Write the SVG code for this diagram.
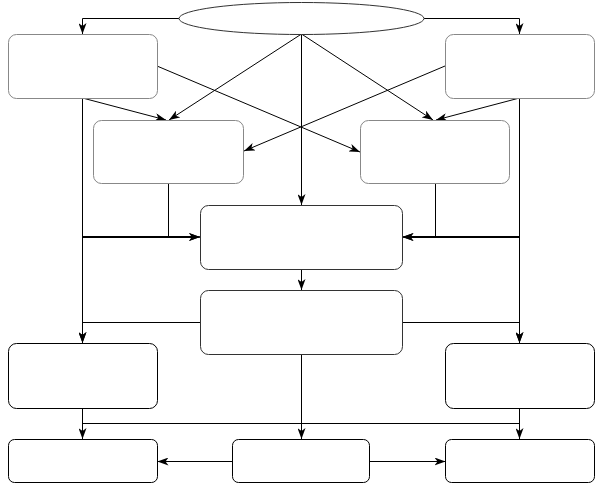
<svg xmlns="http://www.w3.org/2000/svg" width="596" height="484" viewBox="0 0 596 484">
<style>
.g{fill:#fff;stroke:#888;stroke-width:1}
.d{fill:#fff;stroke:#333;stroke-width:1}
.k{fill:#fff;stroke:#000;stroke-width:1}
.c path{fill:none;stroke:#000;stroke-width:1}
.c path.t{stroke-width:2}
</style>
<defs>
<marker id="a" viewBox="0 0 11 8" refX="11" refY="4" markerWidth="11" markerHeight="8" orient="auto" markerUnits="userSpaceOnUse"><path d="M0,0 L11,4 L0,8 L3,4 Z" fill="#000"/></marker>
</defs>
<rect width="596" height="484" fill="#fff"/>
<g class="c" id="connectors">
<path d="M179,18.5 H82.5 V34" marker-end="url(#a)"/>
<path d="M424,18.5 H519.5 V34" marker-end="url(#a)"/>
<path d="M301.5,34 L169,120" marker-end="url(#a)"/>
<path d="M301.5,34 L433,120" marker-end="url(#a)"/>
<path d="M301.5,34 V205" marker-end="url(#a)"/>
<path d="M157,66 L360,152" marker-end="url(#a)"/>
<path d="M445,66 L244,151" marker-end="url(#a)"/>
<path d="M82.5,98 L166,120" marker-end="url(#a)"/>
<path d="M519.5,98 L436,120" marker-end="url(#a)"/>
<path d="M82.5,98 V237 H200" marker-end="url(#a)"/>
<path d="M168.5,183 V237 H200" marker-end="url(#a)"/>
<path d="M519.5,98 V237 H402.5" marker-end="url(#a)"/>
<path d="M435.5,183 V237 H402.5" marker-end="url(#a)"/>
<path class="t" d="M82,237 H192"/>
<path class="t" d="M411,237 H520"/>
<path d="M82.5,98 V343" marker-end="url(#a)"/>
<path d="M519.5,98 V343" marker-end="url(#a)"/>
<path d="M200,322.5 H82.5 V343" marker-end="url(#a)"/>
<path d="M402.5,322.5 H519.5 V343" marker-end="url(#a)"/>
<path d="M301.5,269.5 V290" marker-end="url(#a)"/>
<path d="M301.5,354.5 V439" marker-end="url(#a)"/>
<path d="M82.5,408.5 V439" marker-end="url(#a)"/>
<path d="M519.5,408.5 V439" marker-end="url(#a)"/>
<path d="M82.5,423.5 H519.5"/>
<path d="M232.5,461.5 H157.5" marker-end="url(#a)"/>
<path d="M369.5,461.5 H445.5" marker-end="url(#a)"/>
</g>
<g id="start"><ellipse cx="301.5" cy="18.5" rx="122.5" ry="16" class="d"/></g>
<g id="n1"><rect x="8.5" y="34.5" width="149" height="64" rx="8" class="g"/></g>
<g id="n2"><rect x="445.5" y="34.5" width="149" height="64" rx="8" class="g"/></g>
<g id="n3"><rect x="93.5" y="120.5" width="150" height="63" rx="8" class="g"/></g>
<g id="n4"><rect x="360.5" y="120.5" width="149" height="63" rx="8" class="g"/></g>
<g id="n5"><rect x="200.5" y="205.5" width="202" height="64" rx="8" class="d"/></g>
<g id="n6"><rect x="200.5" y="290.5" width="202" height="64" rx="8" class="d"/></g>
<g id="n7"><rect x="8.5" y="343.5" width="149" height="65" rx="8" class="k"/></g>
<g id="n8"><rect x="445.5" y="343.5" width="149" height="65" rx="8" class="k"/></g>
<g id="n9"><rect x="8.5" y="439.5" width="149" height="43" rx="6" class="k"/></g>
<g id="n10"><rect x="232.5" y="439.5" width="137" height="43" rx="6" class="k"/></g>
<g id="n11"><rect x="445.5" y="439.5" width="149" height="43" rx="6" class="k"/></g>
</svg>
